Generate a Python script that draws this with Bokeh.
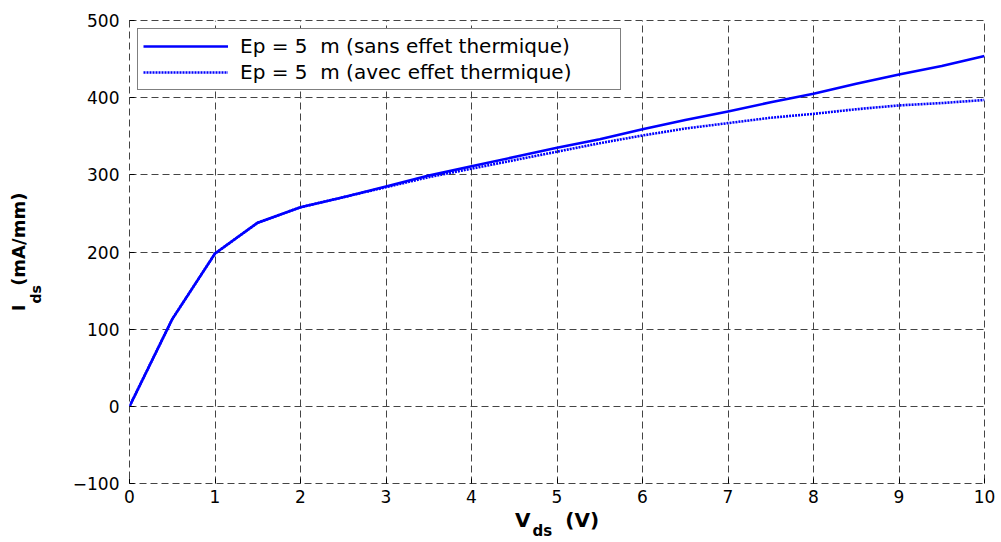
import math
from bokeh.plotting import figure
from bokeh.models import (Range1d, SingleIntervalTicker, Label, Legend, LegendItem)
from bokeh.embed import file_html
from bokeh.resources import INLINE

# ---- data ----
vds = [0, 0.5, 1, 1.5, 2, 2.5, 3, 3.5, 4, 4.5, 5, 5.5, 6, 6.5, 7, 7.5, 8, 8.5, 9, 9.5, 10]
ids_sans = [0, 113, 198, 238, 258, 271, 285, 299, 311, 323, 335, 346, 359, 371, 382,
            394, 405, 418, 430, 441, 454]
ids_avec = [0, 113, 198, 238, 258, 271, 284, 297, 308, 319, 330, 341, 351, 360, 367,
            374, 379, 385, 390, 393, 397]
label_sans = "Ep = 5  m (sans effet thermique)"
label_avec = "Ep = 5  m (avec effet thermique)"
x_label_main, x_label_sub, x_label_unit = "V", "ds", "(V)"
y_label_main, y_label_sub, y_label_unit = "I", "ds", "(mA/mm)"
x_ticks_interval = 1
y_ticks_interval = 100

FONT = "DejaVu Sans"
BLUE = "#0000ff"
NB = "\u00a0"

X0, X1, Y0, Y1 = 0, 10, -100, 500
W, H = 1000, 541
FL, FT, FR, FB = 129, 20, 984, 483  # frame edges in pixels

p = figure(width=W, height=H, output_backend="svg", toolbar_location=None,
           x_range=Range1d(X0, X1), y_range=Range1d(Y0, Y1),
           min_border_left=FL, min_border_right=W - FR, min_border_top=FT,
           min_border_bottom=H - FB)
p.outline_line_color = "#444444"
p.outline_line_dash = "7 4"
p.outline_line_width = 1
p.background_fill_color = "white"
p.border_fill_color = "white"

p.xaxis.ticker = SingleIntervalTicker(interval=x_ticks_interval, num_minor_ticks=0)
p.yaxis.ticker = SingleIntervalTicker(interval=y_ticks_interval, num_minor_ticks=0)
for ax in (p.xaxis[0], p.yaxis[0]):
    ax.axis_line_color = None
    ax.major_tick_in = 5
    ax.major_tick_out = 0
    ax.major_tick_line_color = "black"
    ax.minor_tick_line_color = None
    ax.major_label_text_font = FONT
    ax.major_label_text_font_size = "17px"
    ax.major_label_text_color = "black"
    ax.axis_label_text_font = FONT
    ax.axis_label_text_font_style = "bold"
    ax.axis_label_text_color = "black"
p.xaxis.major_label_standoff = 6
p.yaxis.major_label_standoff = 10

# axis labels: main letter + gap (filled by subscript label) + unit
p.xaxis.axis_label = x_label_main + NB * 5 + x_label_unit
p.xaxis.axis_label_text_font_size = "20px"
p.xaxis.axis_label_standoff = 2
p.yaxis.axis_label = y_label_main + NB * 3 + y_label_unit
p.yaxis.axis_label_text_font_size = "18px"
p.yaxis.axis_label_standoff = 41

p.grid.grid_line_color = "#444444"
p.grid.grid_line_dash = "7 4"
p.grid.grid_line_width = 1
p.xgrid.ticker = SingleIntervalTicker(interval=x_ticks_interval, num_minor_ticks=0)
p.ygrid.ticker = SingleIntervalTicker(interval=y_ticks_interval, num_minor_ticks=0)

r1 = p.line(vds, ids_sans, line_color=BLUE, line_width=2.6, line_join="round")
r2 = p.line(vds, ids_avec, line_color=BLUE, line_width=2.6, line_dash="2 1",
            line_join="round")

legend = Legend(items=[LegendItem(label=label_sans, renderers=[r1]),
                       LegendItem(label=label_avec, renderers=[r2])],
                location="top_left", margin=8, padding=5, spacing=2,
                glyph_width=85, glyph_height=22, label_height=22,
                label_standoff=12, label_width=375,
                label_text_font=FONT, label_text_font_size="20px",
                label_text_color="black",
                border_line_color="black", border_line_width=1,
                background_fill_color="white", background_fill_alpha=1)
p.add_layout(legend)

# pixel -> data helpers for placing the subscripts (side-panel labels are not clipped)
def dx(px):
    return X0 + (px - FL) / (FR - FL) * (X1 - X0)

def dy(py):
    return Y1 - (py - FT) / (FB - FT) * (Y1 - Y0)

# x subscript, placed in the (otherwise empty) top panel
p.add_layout(Label(x=dx(532), y=dy(530), text=x_label_sub, text_font=FONT,
                   text_font_style="bold", text_font_size="15px",
                   text_align="left", text_baseline="alphabetic",
                   text_color="black"), "above")
# y subscript, rotated, placed in the (otherwise empty) right panel
p.add_layout(Label(x=dx(35), y=dy(303), text=y_label_sub, angle=math.pi / 2,
                   text_font=FONT, text_font_style="bold", text_font_size="14px",
                   text_align="left", text_baseline="alphabetic",
                   text_color="black"), "right")

open("out.html", "w").write(file_html(p, INLINE))
